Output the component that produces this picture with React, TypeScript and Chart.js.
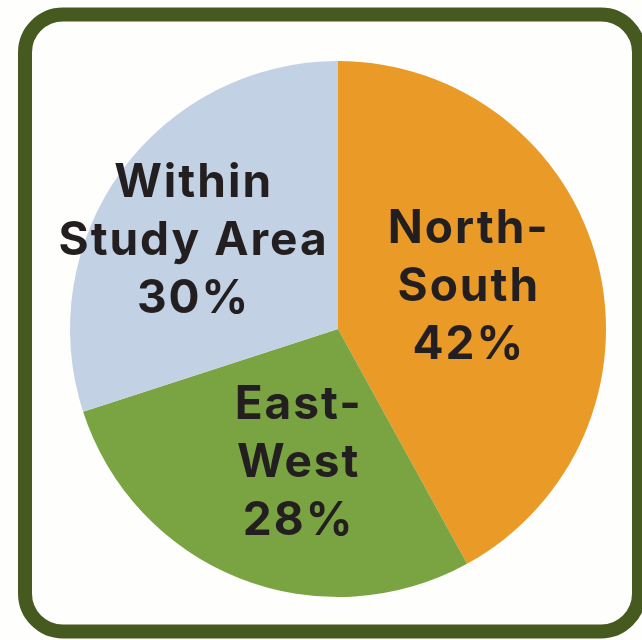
import React, { useEffect, useRef } from "react";
import { Chart, registerables } from "chart.js";

Chart.register(...registerables);

const categories = ["North-South", "East-West", "Within Study Area"];
const values = [42, 28, 30];
const labelLines = [["North-", "South", "42%"], ["East-", "West", "28%"], ["Within", "Study Area", "30%"]];
const colors = ["#EA9A26", "#7AA441", "#C3D1E4"];
const labelOffsets = [[0, -9], [9, 10], [-37, -9]];

const borderPlugin = {
  id: "frame",
  beforeDraw(chart: any) {
    const ctx = chart.ctx;
    ctx.save();
    ctx.fillStyle = "#FEFEFC";
    ctx.fillRect(0, 0, chart.width, chart.height);
    ctx.strokeStyle = "#465A20";
    ctx.lineWidth = 14;
    ctx.beginPath();
    ctx.roundRect(25, 14.5, 614, 617, 38);
    ctx.stroke();
    ctx.restore();
  },
};

const labelPlugin = {
  id: "sliceLabels",
  afterDatasetsDraw(chart: any) {
    const ctx = chart.ctx;
    const meta = chart.getDatasetMeta(0);
    ctx.save();
    ctx.fillStyle = "#231F20";
    ctx.font = "700 46px Inter";
    (ctx as any).letterSpacing = "2px";
    ctx.textAlign = "center";
    ctx.textBaseline = "middle";
    const lh = 58;
    meta.data.forEach((arc: any, i: number) => {
      const p = arc.tooltipPosition();
      const lines = labelLines[i];
      const cx = p.x + labelOffsets[i][0] + 1;
      const cy = p.y + labelOffsets[i][1];
      lines.forEach((t: string, j: number) => {
        ctx.fillText(t, cx, cy + (j - (lines.length - 1) / 2) * lh);
      });
    });
    ctx.restore();
  },
};

export default function App() {
  const ref = useRef<HTMLCanvasElement>(null);
  useEffect(() => {
    const chart = new Chart(ref.current!, {
      type: "pie",
      data: {
        labels: categories,
        datasets: [{ data: values, backgroundColor: colors, borderWidth: 0 }],
      },
      options: {
        animation: false,
        responsive: false,
        layout: { padding: { left: 70, right: 36, top: 61, bottom: 43 } },
        plugins: { legend: { display: false }, tooltip: { enabled: false } },
      },
      plugins: [borderPlugin, labelPlugin],
    });
    return () => chart.destroy();
  }, []);
  return (
    <div style={{ position: "absolute", left: 0, top: 0, width: 642, height: 640 }}>
      <canvas ref={ref} width={642} height={640} />
    </div>
  );
}
